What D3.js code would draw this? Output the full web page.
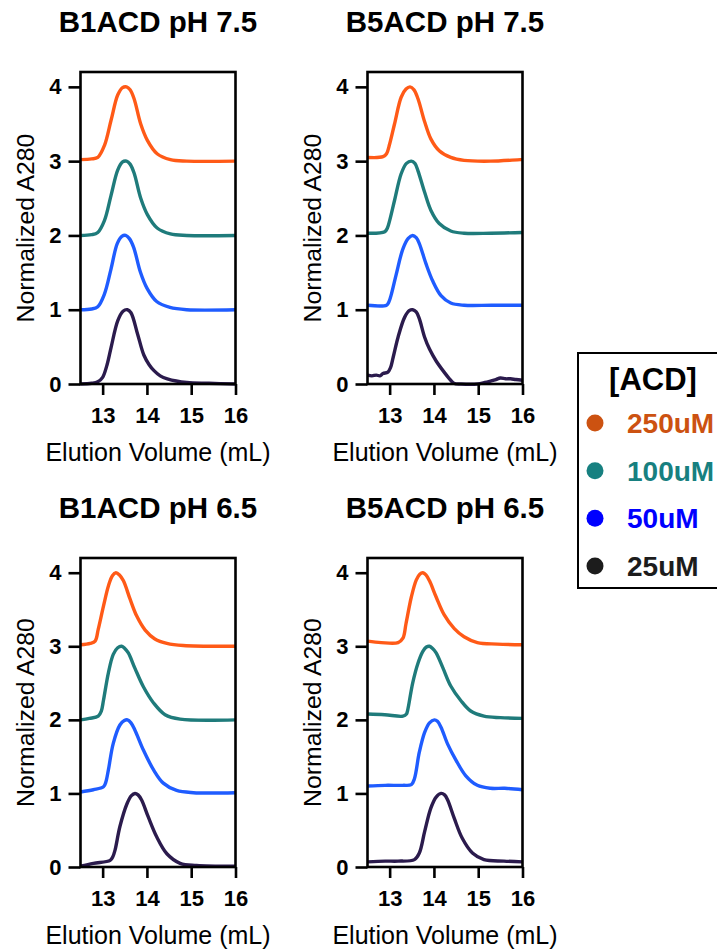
<!DOCTYPE html>
<html>
<head>
<meta charset="utf-8">
<script src="https://cdn.jsdelivr.net/npm/d3@7"></script>
<style>
  body { margin: 0; background: #fff; }
  svg { display: block; }
  text { font-family: "Liberation Sans", Arial, Helvetica, sans-serif; }
</style>
</head>
<body>
<svg id="chart" width="717" height="951"></svg>
<script>
// Stacked SEC traces: [elution volume (mL), normalized A280 + stacking offset]
const concentrations = ["250uM", "100uM", "50uM", "25uM"];
const xTicks = [13, 14, 15, 16];
const yTicks = [0, 1, 2, 3, 4];
const panelTitles = ["B1ACD pH 7.5", "B5ACD pH 7.5", "B1ACD pH 6.5", "B5ACD pH 6.5"];

// B1ACD pH 7.5
const b1ph75_250 = [[12.5,3.02],[12.75,3.03],[12.89,3.05],[13.04,3.21],[13.19,3.55],[13.34,3.89],[13.45,3.99],[13.54,4.0],[13.62,3.96],[13.71,3.84],[13.86,3.50],[14.01,3.28],[14.23,3.10],[14.53,3.02],[14.9,3.0],[16,3.0]];
const b1ph75_100 = [[12.5,2.0],[12.75,2.01],[12.89,2.04],[13.04,2.2],[13.19,2.54],[13.34,2.88],[13.45,2.99],[13.54,3.0],[13.62,2.96],[13.71,2.84],[13.86,2.50],[14.01,2.28],[14.23,2.10],[14.53,2.02],[14.9,2.0],[16,2.0]];
const b1ph75_50 = [[12.5,1.0],[12.75,1.01],[12.89,1.04],[13.04,1.21],[13.19,1.55],[13.33,1.89],[13.44,1.99],[13.52,2.0],[13.6,1.96],[13.7,1.84],[13.85,1.51],[14.0,1.29],[14.22,1.11],[14.52,1.03],[14.9,1.0],[16,1.0]];
const b1ph75_25 = [[12.5,0.0],[12.75,0.01],[12.89,0.03],[13.0,0.09],[13.1,0.26],[13.19,0.49],[13.34,0.85],[13.46,0.98],[13.56,1.0],[13.64,0.96],[13.79,0.67],[13.93,0.39],[14.05,0.26],[14.16,0.18],[14.3,0.11],[14.46,0.07],[14.9,0.02],[15.4,0.01],[16,0.0]];

// B5ACD pH 7.5
const b5ph75_250 = [[12.5,3.05],[12.85,3.06],[12.93,3.1],[13.0,3.23],[13.11,3.50],[13.26,3.86],[13.37,3.97],[13.46,4.0],[13.55,3.96],[13.64,3.84],[13.79,3.53],[13.93,3.30],[14.12,3.14],[14.38,3.05],[14.68,3.01],[15.28,3.0],[15.95,3.02],[16,3.02]];
const b5ph75_100 = [[12.5,2.03],[12.89,2.05],[12.95,2.1],[13.0,2.2],[13.11,2.47],[13.26,2.83],[13.38,2.97],[13.49,3.0],[13.57,2.97],[13.64,2.87],[13.79,2.58],[13.93,2.34],[14.12,2.16],[14.38,2.06],[14.68,2.03],[15.28,2.03],[16,2.04]];
const b5ph75_50 = [[12.5,1.06],[12.93,1.06],[12.98,1.1],[13.04,1.21],[13.15,1.48],[13.3,1.82],[13.42,1.96],[13.52,2.0],[13.6,1.97],[13.67,1.89],[13.82,1.62],[13.97,1.39],[14.16,1.19],[14.38,1.09],[14.68,1.06],[15.3,1.06],[16,1.06]];
const b5ph75_25 = [[12.5,0.12],[12.6,0.11],[12.7,0.12],[12.78,0.11],[12.85,0.14],[12.96,0.16],[13.02,0.22],[13.08,0.36],[13.19,0.63],[13.34,0.90],[13.45,0.99],[13.52,1.0],[13.6,0.97],[13.67,0.88],[13.79,0.63],[13.9,0.47],[14.05,0.31],[14.23,0.16],[14.35,0.07],[14.45,0.01],[14.61,0.0],[14.98,0.0],[15.15,0.02],[15.28,0.04],[15.4,0.06],[15.5,0.08],[15.62,0.07],[15.73,0.07],[15.85,0.06],[16,0.05]];

// B1ACD pH 6.5
const b1ph65_250 = [[12.5,3.02],[12.72,3.04],[12.83,3.07],[12.9,3.23],[13.02,3.55],[13.13,3.82],[13.22,3.96],[13.3,4.0],[13.38,3.97],[13.47,3.89],[13.62,3.64],[13.77,3.41],[13.96,3.22],[14.18,3.10],[14.45,3.04],[14.82,3.01],[16,3.0]];
const b1ph65_100 = [[12.5,2.0],[12.7,2.02],[12.9,2.05],[12.97,2.12],[13.02,2.27],[13.13,2.64],[13.24,2.89],[13.34,2.98],[13.43,3.0],[13.5,2.97],[13.58,2.91],[13.73,2.70],[13.92,2.45],[14.15,2.23],[14.41,2.07],[14.75,2.01],[16,2.0]];
const b1ph65_50 = [[12.5,1.02],[12.79,1.05],[13.02,1.09],[13.07,1.15],[13.13,1.32],[13.24,1.68],[13.39,1.93],[13.49,1.99],[13.56,2.0],[13.64,1.96],[13.73,1.86],[13.92,1.59],[14.15,1.32],[14.37,1.14],[14.67,1.04],[15.05,1.01],[16,1.01]];
const b1ph65_25 = [[12.5,0.01],[12.79,0.05],[13.17,0.09],[13.23,0.14],[13.28,0.23],[13.39,0.55],[13.55,0.86],[13.65,0.97],[13.73,1.0],[13.8,0.98],[13.88,0.91],[14.03,0.68],[14.22,0.41],[14.45,0.18],[14.75,0.05],[15.12,0.02],[16,0.01]];

// B5ACD pH 6.5
const b5ph65_250 = [[12.5,3.07],[12.81,3.05],[13.19,3.05],[13.3,3.11],[13.37,3.31],[13.49,3.67],[13.6,3.9],[13.68,3.98],[13.75,4.0],[13.82,3.97],[13.9,3.89],[14.05,3.67],[14.23,3.43],[14.46,3.24],[14.68,3.13],[14.98,3.05],[15.43,3.03],[16,3.02]];
const b5ph65_100 = [[12.5,2.08],[12.89,2.07],[13.3,2.05],[13.38,2.08],[13.41,2.14],[13.52,2.5],[13.64,2.77],[13.75,2.93],[13.83,2.99],[13.9,3.0],[13.97,2.97],[14.05,2.91],[14.2,2.71],[14.38,2.46],[14.61,2.26],[14.83,2.12],[15.13,2.05],[15.5,2.03],[16,2.02]];
const b5ph65_50 = [[12.5,1.1],[12.9,1.11],[13.3,1.11],[13.49,1.12],[13.56,1.2],[13.67,1.56],[13.79,1.83],[13.9,1.96],[14.01,2.0],[14.08,1.98],[14.16,1.9],[14.31,1.67],[14.5,1.45],[14.72,1.24],[14.98,1.11],[15.28,1.07],[15.6,1.07],[16,1.05]];
const b5ph65_25 = [[12.5,0.07],[12.9,0.08],[13.19,0.08],[13.56,0.1],[13.67,0.19],[13.79,0.48],[13.93,0.8],[14.05,0.95],[14.16,1.0],[14.24,0.98],[14.31,0.91],[14.46,0.66],[14.64,0.39],[14.87,0.19],[15.13,0.1],[15.58,0.08],[16,0.07]];

const panelSeries = [
  [b1ph75_250, b1ph75_100, b1ph75_50, b1ph75_25],
  [b5ph75_250, b5ph75_100, b5ph75_50, b5ph75_25],
  [b1ph65_250, b1ph65_100, b1ph65_50, b1ph65_25],
  [b5ph65_250, b5ph65_100, b5ph65_50, b5ph65_25]
];

// Styling
const lineColors = ["#ff5a17", "#1f7b7b", "#1f5cff", "#2b1b4d"];
const legendColors = ["#cc5211", "#178080", "#0000ff", "#1c1c1c"];

// Layout of the 2x2 grid
const colLeft = [80.5, 367.5];
const plotW = 155;
const rowTop = [72, 558];
const rowBottom = [384, 867];

const svg = d3.select("#chart");

panelSeries.forEach((series, i) => {
  const col = i % 2, row = Math.floor(i / 2);
  const left = colLeft[col], right = left + plotW;
  const top = rowTop[row], bottom = rowBottom[row];

  const x = d3.scaleLinear().domain([12.5, 16]).range([left, right]);
  const y = d3.scaleLinear().domain([0, 4.2]).range([bottom, top]);

  const g = svg.append("g");

  // traces
  const line = d3.line()
    .x(d => x(d[0])).y(d => y(d[1]))
    .curve(d3.curveCatmullRom.alpha(0.5));
  series.forEach((s, k) => {
    g.append("path")
      .datum(s)
      .attr("d", line)
      .attr("fill", "none")
      .attr("stroke", lineColors[k])
      .attr("stroke-width", 3.4)
      .attr("stroke-linejoin", "round")
      .attr("stroke-linecap", "butt");
  });

  // frame
  g.append("rect")
    .attr("x", left).attr("y", top)
    .attr("width", right - left).attr("height", bottom - top)
    .attr("fill", "none").attr("stroke", "#000").attr("stroke-width", 2.6);

  // axes
  const yAxis = d3.axisLeft(y).tickValues(yTicks).tickFormat(d3.format("d"))
    .tickSize(12).tickSizeOuter(0).tickPadding(7);
  const xAxis = d3.axisBottom(x).tickValues(xTicks).tickFormat(d3.format("d"))
    .tickSize(11).tickSizeOuter(0).tickPadding(12.5);

  const ya = g.append("g").attr("transform", `translate(${left},0)`).call(yAxis);
  const xa = g.append("g").attr("transform", `translate(0,${bottom})`).call(xAxis);
  [ya, xa].forEach(a => {
    a.select(".domain").remove();
    a.selectAll(".tick line").attr("stroke", "#000").attr("stroke-width", 2.6);
    a.selectAll(".tick text")
      .attr("fill", "#000")
      .style("font-size", "22px")
      .style("font-weight", "bold")
      .style("font-family", "'Liberation Sans', Arial, sans-serif");
  });

  const cx = (left + right) / 2;

  // title
  g.append("text")
    .attr("x", cx).attr("y", top - 40)
    .attr("text-anchor", "middle")
    .style("font-size", "29.5px").style("font-weight", "bold")
    .text(panelTitles[i]);

  // axis titles
  g.append("text")
    .attr("x", cx).attr("y", bottom + 77)
    .attr("text-anchor", "middle")
    .style("font-size", "25px")
    .text("Elution Volume (mL)");

  g.append("text")
    .attr("transform", `translate(${left - 47},${(top + bottom) / 2}) rotate(-90)`)
    .attr("text-anchor", "middle")
    .style("font-size", "24.8px")
    .text("Normalized A280");
});

// legend
const lg = svg.append("g");
lg.append("rect")
  .attr("x", 578).attr("y", 353).attr("width", 150).attr("height", 235)
  .attr("fill", "#fff").attr("stroke", "#000").attr("stroke-width", 2);
lg.append("text")
  .attr("x", 653).attr("y", 390)
  .attr("text-anchor", "middle")
  .style("font-size", "31px").style("font-weight", "bold")
  .text("[ACD]");
const legendY = d3.scalePoint().domain(concentrations).range([423, 566]);
concentrations.forEach((c, k) => {
  lg.append("circle")
    .attr("cx", 595).attr("cy", legendY(c)).attr("r", 8.5)
    .attr("fill", legendColors[k]);
  lg.append("text")
    .attr("x", 627).attr("y", legendY(c) + 10)
    .attr("fill", legendColors[k])
    .style("font-size", "28px").style("font-weight", "bold")
    .text(c);
});
</script>
</body>
</html>
